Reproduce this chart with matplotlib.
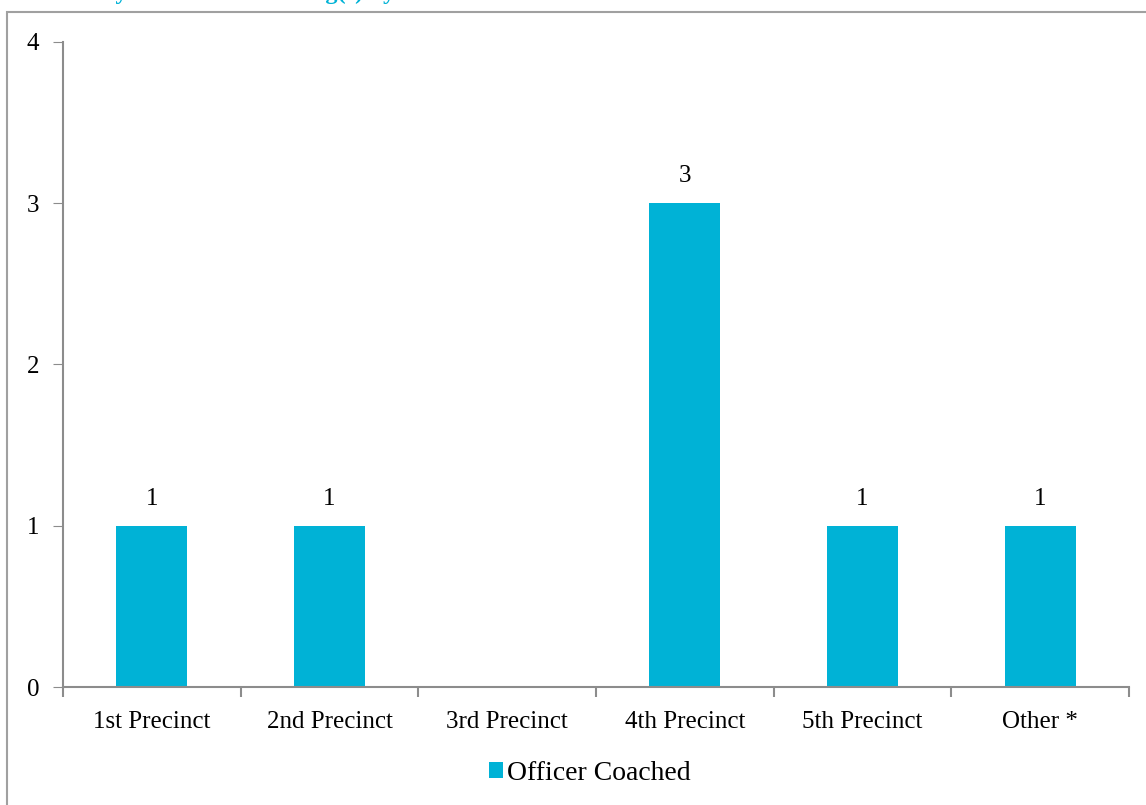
import matplotlib.pyplot as plt
from matplotlib.patches import Rectangle

precincts = ["1st Precinct", "2nd Precinct", "3rd Precinct", "4th Precinct", "5th Precinct", "Other *"]
coached = [1, 1, 0, 3, 1, 1]
y_ticks = [0, 1, 2, 3, 4]

bar_color = "#00B2D6"
axis_color = "#8C8C8C"
W, H = 1146, 805

plt.rcParams["font.family"] = ["Liberation Serif", "DejaVu Serif"]

fig = plt.figure(figsize=(W / 100, H / 100), dpi=100)

# outer chart border (runs off the right and bottom edge)
fig.patches.append(Rectangle((7 / W, -0.05), 1.1, 1 - 12 / H + 0.05, transform=fig.transFigure,
                             fill=False, edgecolor="#A0A0A0", linewidth=1.5))

# title, mostly cut off at the top: only the descenders show
fig.text(25 / W, 1 + 1 / H, "Summary of Officer Coaching(s) by Precinct", color=bar_color,
         fontsize=17.5, fontweight="bold", ha="left", va="baseline")

ax = fig.add_axes([63 / W, 1 - 687 / H, (1129 - 63) / W, (687 - 42) / H])
x = list(range(len(precincts)))
bars = ax.bar(x, coached, width=0.4, color=bar_color, label="Officer Coached", zorder=2)
for xi, v in zip(x, coached):
    if v > 0:
        ax.text(xi, v + 0.1, str(v), ha="center", va="bottom", fontsize=18)

ax.set_xlim(-0.5, len(precincts) - 0.5)
ax.set_ylim(0, 4)
ax.set_yticks(y_ticks)
ax.tick_params(axis="y", labelsize=18, length=7, color=axis_color, pad=10)
ax.set_xticks(x)
ax.set_xticklabels(precincts, fontsize=18)
ax.tick_params(axis="x", length=0, pad=17)
# category separator ticks
ax.set_xticks([i - 0.5 for i in range(len(precincts) + 1)], minor=True)
ax.tick_params(axis="x", which="minor", length=7, color=axis_color, width=1.5)

for s in ["top", "right"]:
    ax.spines[s].set_visible(False)
for s in ["left", "bottom"]:
    ax.spines[s].set_color(axis_color)
    ax.spines[s].set_linewidth(1.5)

fig.legend(handles=[bars], labels=["Officer Coached"], loc="center", bbox_to_anchor=(0.515, 1 - 773 / H),
           frameon=False, fontsize=20, handlelength=0.5, handleheight=0.5, handletextpad=0.15)

fig.savefig("out.png", dpi=100)
